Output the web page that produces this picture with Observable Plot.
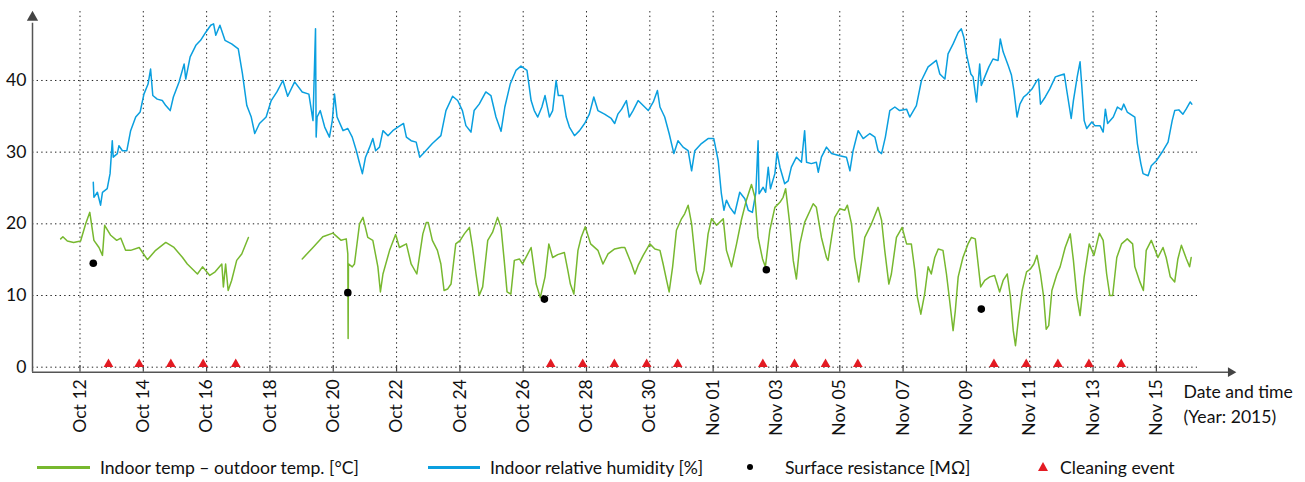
<!DOCTYPE html>
<html>
<head>
<meta charset="utf-8">
<script src="https://cdn.jsdelivr.net/npm/d3@7"></script>
<script src="https://cdn.jsdelivr.net/npm/@observablehq/plot@0.6"></script>
<style>
  html, body { margin: 0; padding: 0; background: #fff; }
  #chart svg { display: block; }
  #legend { position: relative; width: 1305px; height: 32px; font-family: Lato, "Open Sans", sans-serif; font-size: 17.6px; color: #111; }
  #legend .it { position: absolute; }
  #legend .lbl { position: absolute; top: 17px; transform: translateY(-50%); white-space: nowrap; }
</style>
</head>
<body>
<div id="chart"></div>
<div id="legend"></div>
<script>
// ---- data (x = day of October 2015, fractional; >31 continues into November) ----
const tempDays = [11.39,11.46,11.6,11.8,12.02,12.18,12.31,12.44,12.6,12.71,12.78,12.97,13.16,13.29,13.44,13.6,13.87,14.13,14.39,14.71,14.97,15.24,15.39,15.71,15.87,16.1,16.27,16.48,16.53,16.6,16.68,16.79,16.95,17.11,17.32,
  18.2,
  19.02,19.36,19.67,19.99,20.25,20.41,20.46,20.47,20.48,20.6,20.67,20.83,20.94,21.09,21.25,21.41,21.49,21.57,21.78,21.97,22.09,22.31,22.46,22.64,22.83,22.94,23.0,23.13,23.29,23.4,23.5,23.61,23.72,23.87,24.01,24.14,24.3,24.4,24.51,24.61,24.72,24.88,25.03,25.19,25.3,25.4,25.49,25.61,25.72,25.88,25.98,26.25,26.41,26.54,26.69,26.81,26.93,27.09,27.3,27.41,27.49,27.6,27.73,27.83,27.96,28.13,28.36,28.52,28.68,28.89,29.1,29.21,29.42,29.53,29.63,29.79,30.0,30.16,30.32,30.42,30.53,30.61,30.72,30.84,31.0,31.1,31.21,31.32,31.47,31.6,31.71,31.84,31.95,32.11,32.32,32.42,32.58,32.74,32.89,33.05,33.21,33.32,33.42,33.56,33.65,33.79,33.95,34.11,34.21,34.29,34.42,34.53,34.63,34.74,34.89,35.16,35.26,35.42,35.58,35.63,35.74,35.84,36.0,36.16,36.24,36.37,36.47,36.6,36.68,36.79,37.0,37.21,37.32,37.42,37.55,37.63,37.79,37.97,38.11,38.26,38.37,38.45,38.56,38.68,38.79,38.89,39.0,39.11,39.26,39.37,39.47,39.58,39.65,39.74,39.89,40.05,40.16,40.28,40.37,40.45,40.58,40.74,40.89,41.05,41.16,41.29,41.39,41.48,41.55,41.65,41.76,41.9,42.02,42.13,42.23,42.34,42.44,42.52,42.6,42.7,42.86,42.96,43.12,43.28,43.38,43.49,43.59,43.72,43.88,44.03,44.2,44.32,44.43,44.53,44.62,44.75,44.9,45.08,45.25,45.32,45.48,45.59,45.68,45.84,46.05,46.21,46.31,46.44,46.58,46.68,46.79,46.95,47.05,47.1];
const tempValues = [17.9,18.2,17.6,17.4,17.6,20.0,21.6,17.7,16.7,15.6,19.8,18.4,17.7,18.0,16.3,16.3,16.7,15.0,16.3,17.4,16.7,15.3,14.4,13.0,14.0,12.8,13.3,14.4,11.2,14.4,10.7,12.1,14.9,15.8,18.1,
  null,
  15.1,16.7,18.2,18.7,17.7,17.9,15.8,4.0,14.4,14.0,14.4,20.0,20.9,18.1,17.7,14.0,10.5,13.0,16.3,18.5,16.7,17.2,14.4,13.0,18.6,20.2,20.2,17.7,16.3,14.4,10.7,10.9,11.6,17.2,17.7,18.6,19.5,16.7,13.0,10.0,11.2,17.7,18.8,20.9,19.5,14.9,10.5,10.2,14.9,15.1,14.4,16.7,11.6,9.7,12.6,17.2,15.3,15.7,16.0,13.5,11.6,10.2,16.3,18.1,19.6,17.2,16.3,14.4,15.8,16.5,16.7,16.7,14.4,13.0,14.2,15.6,17.2,16.5,16.3,14.4,12.1,10.5,14.0,19.1,20.7,21.4,22.6,20.0,13.5,11.6,13.5,18.6,20.7,19.8,20.7,16.3,14.0,17.2,20.5,23.3,25.5,23.7,18.1,15.1,14.0,19.1,22.3,23.0,23.7,24.9,20.0,14.9,12.3,17.2,20.2,22.8,22.3,18.1,15.3,14.9,18.1,20.9,22.1,21.9,22.6,20.0,15.3,11.9,14.4,18.1,20.0,22.3,20.5,16.3,11.6,13.0,18.1,19.5,17.2,17.2,13.5,9.8,7.4,10.2,14.0,13.0,15.3,16.5,16.3,13.0,9.3,5.1,7.9,12.6,15.3,17.2,18.1,17.9,14.4,11.2,12.1,12.6,12.8,10.5,12.1,13.0,9.8,5.1,3.0,7.0,10.7,13.3,13.7,14.4,15.6,13.0,9.8,5.3,5.8,10.7,13.0,14.0,16.7,18.6,14.9,9.8,7.2,12.6,17.2,15.6,18.7,17.7,13.0,10.0,10.0,15.3,17.2,17.9,17.2,14.0,11.9,10.7,16.3,17.7,15.3,16.7,15.3,12.6,11.9,15.1,17.0,15.1,14.0,15.3];

const humDays = [12.42,12.44,12.55,12.65,12.71,12.86,12.95,13.02,13.05,13.18,13.23,13.34,13.48,13.6,13.76,13.9,14.02,14.15,14.23,14.3,14.44,14.6,14.71,14.85,14.95,15.13,15.29,15.34,15.48,15.66,15.81,15.97,16.13,16.22,16.29,16.42,16.58,16.79,17.0,17.13,17.27,17.41,17.52,17.67,17.88,18.04,18.22,18.41,18.56,18.78,19.02,19.23,19.36,19.44,19.46,19.49,19.59,19.73,19.88,19.97,20.04,20.12,20.31,20.46,20.6,20.73,20.81,20.92,21.02,21.15,21.25,21.34,21.46,21.57,21.73,21.88,22.04,22.22,22.31,22.46,22.62,22.73,22.88,23.13,23.4,23.56,23.77,23.93,24.08,24.19,24.35,24.45,24.61,24.82,24.98,25.14,25.3,25.42,25.59,25.77,25.93,26.12,26.25,26.35,26.46,26.59,26.69,26.83,26.93,27.04,27.11,27.25,27.36,27.46,27.62,27.78,27.94,28.09,28.23,28.36,28.57,28.78,28.89,28.99,29.11,29.26,29.35,29.47,29.63,29.79,29.95,30.11,30.24,30.32,30.47,30.61,30.76,30.89,31.05,31.21,31.32,31.42,31.63,31.84,32.02,32.16,32.26,32.34,32.42,32.53,32.68,32.84,33.0,33.11,33.24,33.35,33.42,33.45,33.58,33.66,33.74,33.81,33.95,34.02,34.11,34.26,34.37,34.47,34.63,34.79,34.89,34.95,35.1,35.26,35.32,35.42,35.58,35.74,36.0,36.21,36.32,36.42,36.58,36.74,36.95,37.11,37.21,37.32,37.44,37.58,37.74,37.89,38.11,38.21,38.42,38.58,38.79,39.05,39.16,39.32,39.42,39.58,39.74,39.84,39.92,40.0,40.14,40.21,40.32,40.42,40.47,40.58,40.71,40.84,41.0,41.07,41.16,41.32,41.42,41.5,41.6,41.69,41.81,41.92,42.07,42.23,42.28,42.34,42.49,42.63,42.81,42.94,43.09,43.17,43.31,43.38,43.5,43.59,43.64,43.72,43.8,43.96,44.06,44.22,44.32,44.39,44.46,44.64,44.77,44.9,44.97,45.08,45.32,45.4,45.51,45.58,45.74,45.84,46.0,46.21,46.37,46.5,46.58,46.71,46.84,46.94,47.07,47.12];
const humValues = [25.8,23.7,24.4,22.6,24.4,24.9,27.0,31.6,29.3,29.8,30.9,30.2,30.2,33.0,34.9,35.6,38.1,39.5,41.6,37.9,37.4,37.2,36.5,35.8,37.7,39.8,42.3,40.2,43.3,44.9,45.6,46.7,47.7,47.9,46.3,47.7,45.6,45.1,44.4,41.0,36.5,34.9,32.6,34.0,34.9,37.2,38.4,40.0,37.8,39.8,38.4,38.1,34.4,47.2,32.1,34.9,35.8,33.5,32.1,34.4,38.1,34.9,33.0,33.3,32.1,30.2,28.8,27.0,29.3,30.7,31.9,30.2,30.7,33.0,32.3,33.0,33.5,34.0,32.1,31.6,31.4,29.3,30.0,31.2,32.3,35.8,37.8,37.2,35.8,33.7,32.8,35.8,36.7,38.4,37.9,34.9,32.9,36.3,39.5,41.4,42.0,41.4,37.2,35.8,34.9,36.3,37.9,34.9,35.8,40.0,37.9,37.9,34.9,33.5,32.3,33.0,34.0,35.3,37.7,35.8,35.3,34.7,34.0,35.3,36.0,37.2,34.9,35.8,37.2,36.5,35.8,37.0,38.6,36.3,34.9,32.6,29.8,31.6,30.7,30.2,27.4,30.2,31.2,31.9,31.9,28.8,24.2,21.9,23.3,22.3,21.4,24.4,23.5,21.9,21.6,24.4,31.6,24.2,25.1,24.4,27.9,24.9,27.0,30.0,27.9,25.6,26.0,27.9,29.3,28.6,33.0,28.6,28.4,28.6,27.2,29.3,30.7,29.8,29.5,29.3,27.4,30.2,33.0,31.9,32.6,32.1,30.2,29.8,32.1,35.8,36.3,35.8,36.0,34.9,36.5,40.0,41.9,42.8,40.9,40.2,43.7,45.1,46.7,47.2,46.0,43.7,40.9,40.5,37.0,42.3,39.3,40.5,41.9,43.0,42.8,45.8,44.0,42.1,40.8,38.6,34.9,36.7,37.7,38.1,38.8,40.0,40.2,36.7,37.7,38.8,40.5,40.7,40.9,38.6,34.7,37.2,40.5,42.6,39.5,34.4,33.3,34.2,33.7,33.7,32.8,36.0,34.0,34.9,36.3,35.9,36.7,35.6,34.9,31.2,28.4,27.0,26.7,28.1,28.8,30.2,31.4,34.4,35.8,35.9,35.3,36.0,37.0,36.7];

const resistanceDays = [12.42, 20.46, 26.67, 33.68, 40.47];
const resistanceValues = [14.5, 10.4, 9.5, 13.6, 8.1];

const cleaningDays = [12.9, 13.87, 14.87, 15.89, 16.92, 26.87, 27.88, 28.88, 29.9, 30.88, 33.57, 34.57, 35.55, 36.57, 40.87, 41.89, 42.89, 43.87, 44.89];

const yTicks = [0, 10, 20, 30, 40];
const xTickLabels = ["Oct 12","Oct 14","Oct 16","Oct 18","Oct 20","Oct 22","Oct 24","Oct 26","Oct 28","Oct 30","Nov 01","Nov 03","Nov 05","Nov 07","Nov 09","Nov 11","Nov 13","Nov 15"];
const xAxisTitle = ["Date and time", "(Year: 2015)"];
const seriesNames = ["Indoor temp \u2013 outdoor temp. [\u00b0C]", "Indoor relative humidity [%]", "Surface resistance [M\u03a9]", "Cleaning event"];
const colors = {temp: "#77b82f", hum: "#0a9fdf", res: "#000000", clean: "#e31b23"};

// ---- build ----
const toDate = d => new Date(Date.UTC(2015, 9, 1) + (d - 1) * 864e5);
const parseTick = d3.utcParse("%b %d %Y");
const xTicks = xTickLabels.map(s => parseTick(s + " 2015"));
const temp = tempDays.map((d, i) => ({t: toDate(d), v: tempValues[i]}));
const hum = humDays.map((d, i) => ({t: toDate(d), v: humValues[i]}));
const res = resistanceDays.map((d, i) => ({t: toDate(d), v: resistanceValues[i]}));
const clean = cleaningDays.map(d => ({t: toDate(d), v: 0}));

const xStart = toDate(10.5), xEnd = toDate(48.5), gridEnd = toDate(47.3);
const yBottom = -0.7, yTop = 50;
const grid = {stroke: "#222", strokeWidth: 1, strokeDasharray: "1.4,3.2"};
const FS = 17.6;

const chart = Plot.plot({
  width: 1305,
  height: 450,
  marginLeft: 32,
  marginRight: 70,
  marginTop: 8.3,
  marginBottom: 78.3,
  x: {type: "utc", domain: [xStart, xEnd], label: null},
  y: {domain: [yBottom, yTop], label: null},
  style: {fontFamily: "Lato, 'Open Sans', sans-serif", fontSize: FS + "px", color: "#111", background: "#fff", overflow: "visible"},
  marks: [
    Plot.ruleY(yTicks, {x1: xStart, x2: gridEnd, ...grid}),
    Plot.ruleX(xTicks, {y1: 0, y2: yTop, ...grid}),
    Plot.ruleX(xTicks, {y1: yBottom, y2: 0.2, stroke: "#444", strokeWidth: 1.2}),
    Plot.line(hum, {x: "t", y: "v", stroke: colors.hum, strokeWidth: 1.5}),
    Plot.line(temp, {x: "t", y: "v", stroke: colors.temp, strokeWidth: 1.5}),
    Plot.dot(res, {x: "t", y: "v", r: 3.8, fill: colors.res}),
    Plot.dot(clean, {x: "t", y: "v", symbol: "triangle", r: 3.6, fill: colors.clean, dy: -3}),
    Plot.ruleY([yBottom], {x1: xStart, x2: toDate(48.3), stroke: "#555", strokeWidth: 1.5}),
    Plot.ruleX([xStart], {y1: yBottom, y2: 48.0, stroke: "#555", strokeWidth: 1.5}),
    Plot.dot([0], {x: toDate(48.35), y: yBottom, symbol: "triangle", rotate: 90, r: 3.6, fill: "#444"}),
    Plot.dot([0], {x: xStart, y: 48.8, symbol: "triangle", r: 4.2, fill: "#444"}),
    Plot.axisY(yTicks, {tickSize: 0, tickPadding: 6, fontSize: FS, label: null}),
    Plot.axisX(xTicks, {tickSize: 0, tickPadding: 7, tickRotate: -90, fontSize: FS, label: null, tickFormat: d3.utcFormat("%b %d")}),
    Plot.text([xAxisTitle[0]], {frameAnchor: "bottom-right", dx: -52, dy: 25.5, textAnchor: "start", fontSize: FS}),
    Plot.text([xAxisTitle[1]], {frameAnchor: "bottom-right", dx: -52, dy: 50.5, textAnchor: "start", fontSize: FS})
  ]
});
document.getElementById("chart").append(chart);

// ---- legend ----
const legend = document.getElementById("legend");
const add = (html) => { legend.insertAdjacentHTML("beforeend", html); };
add(`<div class="it" style="left:37px;top:15.5px;width:53px;height:3px;background:${colors.temp}"></div>`);
add(`<div class="lbl" style="left:100px">${seriesNames[0]}</div>`);
add(`<div class="it" style="left:428px;top:15.5px;width:52px;height:3px;background:${colors.hum}"></div>`);
add(`<div class="lbl" style="left:490px">${seriesNames[1]}</div>`);
add(`<div class="it" style="left:747px;top:14px;width:6px;height:6px;border-radius:50%;background:${colors.res}"></div>`);
add(`<div class="lbl" style="left:785px">${seriesNames[2]}</div>`);
add(`<svg class="it" style="left:1038px;top:12px" width="10" height="9"><polygon points="5,0 10,9 0,9" fill="${colors.clean}"/></svg>`);
add(`<div class="lbl" style="left:1060px">${seriesNames[3]}</div>`);
</script>
</body>
</html>
